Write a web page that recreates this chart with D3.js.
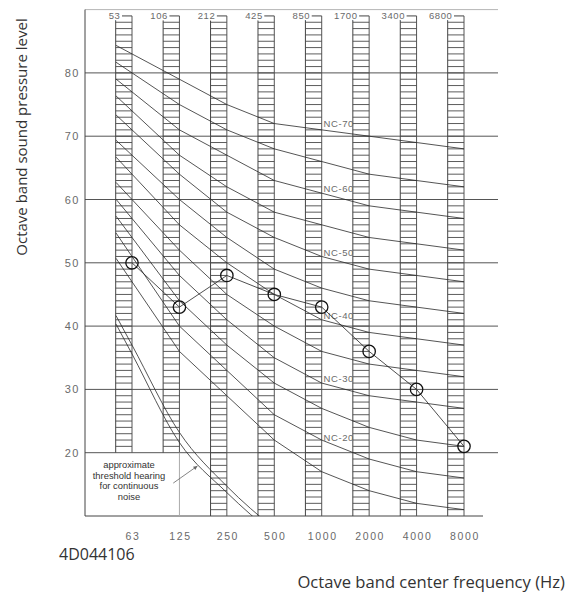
<!DOCTYPE html>
<html>
<head>
<meta charset="utf-8">
<script src="https://cdn.jsdelivr.net/npm/d3@7"></script>
<style>
  body { margin: 0; background: #fff; }
  svg { display: block; }
</style>
</head>
<body>
<div id="app"></div>
<script>
(function (d3) {

  'use strict'

  // octave band centres (bottom) and band edges (top)
  const bands = ['63', '125', '250', '500', '1000', '2000', '4000', '8000']
  const edges = ['53', '106', '212', '425', '850', '1700', '3400', '6800']
  const yTicks = [20, 30, 40, 50, 60, 70, 80]

  // NC curves, 63 .. 8000 Hz
  const ncNames = [70, 65, 60, 55, 50, 45, 40, 35, 30, 25, 20, 15]
  const ncValues = [
    [83, 79, 75, 72, 71, 70, 69, 68],
    [80, 75, 71, 68, 66, 64, 63, 62],
    [77, 71, 67, 63, 61, 59, 58, 57],
    [74, 67, 62, 58, 56, 54, 53, 52],
    [71, 64, 58, 54, 51, 49, 48, 47],
    [67, 60, 54, 49, 46, 44, 43, 42],
    [64, 56, 50, 45, 41, 39, 38, 37],
    [60, 52, 45, 40, 36, 34, 33, 32],
    [57, 48, 41, 35, 31, 29, 28, 27],
    [54, 44, 37, 31, 27, 24, 22, 21],
    [51, 40, 33, 26, 22, 19, 17, 16],
    [47, 36, 29, 22, 17, 14, 12, 11]
  ]
  const labelled = [70, 60, 50, 40, 30, 20]

  const measured = [50, 43, 48, 45, 43, 36, 30, 21]

  // approximate hearing threshold, 63 .. 500 Hz
  const thresholdUpper = [37, 23.2, 14.7, 8]
  const thresholdLower = [35.6, 21.6, 13.7, 7]
  const note = ['approximate', 'threshold hearing', 'for continuous', 'noise']

  const w = 572
  const h = 595
  const left = 85
  const gridRight = 498
  const axisRight = 483
  const barW = 16.3
  const ext = 0.337

  const svg = d3.select('#app')
    .append('svg')
    .attr('width', w)
    .attr('height', h)

  const x = d3.scaleLinear().domain([0, 7]).range([132, 464])
  const y = d3.scaleLinear().domain([10, 90]).range([516, 9.6])

  const tickFont = '"Liberation Sans", Arial, sans-serif'
  const textFont = '"Open Sans", "Noto Sans", sans-serif'

  svg.append('defs').append('clipPath')
    .attr('id', 'plot')
    .append('rect')
    .attr('x', left).attr('y', y(90))
    .attr('width', gridRight - left).attr('height', y(10) - y(90))

  // grid
  svg.append('g')
    .selectAll('line')
    .data(yTicks)
    .enter()
    .append('line')
    .attr('x1', left).attr('x2', gridRight)
    .attr('y1', d => y(d)).attr('y2', d => y(d))
    .attr('stroke', '#555')
    .attr('stroke-width', 1)

  svg.append('line')
    .attr('x1', left).attr('x2', gridRight)
    .attr('y1', y(90)).attr('y2', y(90))
    .attr('stroke', '#b5b5b5')

  svg.append('line')
    .attr('x1', left).attr('x2', left)
    .attr('y1', y(90)).attr('y2', y(10))
    .attr('stroke', '#444')

  svg.append('line')
    .attr('x1', left).attr('x2', axisRight)
    .attr('y1', y(10)).attr('y2', y(10))
    .attr('stroke', '#444')

  // y tick labels
  svg.append('g')
    .selectAll('text')
    .data(yTicks)
    .enter()
    .append('text')
    .attr('x', 80)
    .attr('y', d => y(d) + 4)
    .attr('text-anchor', 'end')
    .style('font-family', tickFont)
    .style('font-size', '11px')
    .style('letter-spacing', '1.5px')
    .style('fill', '#6a6a6a')
    .text(d => d)

  // hatched band columns
  const bars = svg.append('g')
  bands.forEach(function (b, i) {
    const bottom = i < 2 ? 20 : 10
    const g = bars.append('g')
    const x1 = x(i) - barW
    const x2 = x(i)
    g.append('line')
      .attr('x1', x1).attr('x2', x1)
      .attr('y1', y(88.4)).attr('y2', y(bottom))
      .attr('stroke', '#444')
    g.append('line')
      .attr('x1', x2).attr('x2', x2)
      .attr('y1', y(89)).attr('y2', y(bottom))
      .attr('stroke', '#555')
    g.selectAll('.hatch')
      .data(d3.range(88, bottom, -1))
      .enter()
      .append('line')
      .attr('class', 'hatch')
      .attr('x1', x1).attr('x2', x2)
      .attr('y1', d => y(d)).attr('y2', d => y(d))
      .attr('stroke', '#4a4a4a')
      .attr('stroke-width', 0.9)
    g.append('line')
      .attr('x1', x2 - 10).attr('x2', x2)
      .attr('y1', y(89)).attr('y2', y(89))
      .attr('stroke', '#444')
    g.append('text')
      .attr('x', x2 - 11.5)
      .attr('y', y(89) + 3.5)
      .attr('text-anchor', 'end')
      .style('font-family', tickFont)
      .style('font-size', '9.5px')
      .style('letter-spacing', '0.6px')
      .style('fill', '#6a6a6a')
      .style('paint-order', 'stroke')
      .style('stroke', '#fff')
      .style('stroke-width', '3px')
      .text(edges[i])
    g.append('text')
      .attr('x', x2 + 1)
      .attr('y', 540)
      .attr('text-anchor', 'middle')
      .style('font-family', tickFont)
      .style('font-size', '10.5px')
      .style('letter-spacing', '1.6px')
      .style('fill', '#6a6a6a')
      .text(b)
  })

  // 125 Hz right edge runs on to the axis
  svg.append('line')
    .attr('x1', x(1)).attr('x2', x(1))
    .attr('y1', y(20)).attr('y2', y(10))
    .attr('stroke', '#aaa')

  const line = d3.line()
    .x(d => x(d.i))
    .y(d => y(d.v))

  const withLead = function (vals) {
    const pts = vals.map((v, i) => ({ i: i, v: v }))
    pts.unshift({ i: -ext, v: vals[0] + (vals[0] - vals[1]) * ext })
    return pts
  }

  // NC curves
  svg.append('g')
    .attr('clip-path', 'url(#plot)')
    .selectAll('path')
    .data(ncValues)
    .enter()
    .append('path')
    .attr('d', d => line(withLead(d)))
    .attr('fill', 'none')
    .attr('stroke', '#2a2a2a')
    .attr('stroke-width', 0.8)

  // NC labels
  svg.append('g')
    .selectAll('text')
    .data(labelled)
    .enter()
    .append('text')
    .attr('x', x(4) + 17)
    .attr('y', function (n) {
      const v = ncValues[ncNames.indexOf(n)]
      return y(v[4] + (v[5] - v[4]) * ext) - 5
    })
    .attr('text-anchor', 'middle')
    .style('font-family', tickFont)
    .style('font-size', '9.5px')
    .style('letter-spacing', '0.6px')
    .style('fill', '#6a6a6a')
    .text(n => 'NC-' + n)

  // threshold of hearing
  const smooth = d3.line()
    .x(d => x(d.i))
    .y(d => y(d.v))
    .curve(d3.curveMonotoneX)

  svg.append('g')
    .attr('clip-path', 'url(#plot)')
    .selectAll('path')
    .data([thresholdUpper, thresholdLower])
    .enter()
    .append('path')
    .attr('d', d => smooth(withLead(d)))
    .attr('fill', 'none')
    .attr('stroke', '#2a2a2a')
    .attr('stroke-width', 0.8)

  svg.append('g')
    .selectAll('text')
    .data(note)
    .enter()
    .append('text')
    .attr('x', 129)
    .attr('y', (d, i) => 468 + i * 10.6)
    .attr('text-anchor', 'middle')
    .style('font-family', tickFont)
    .style('font-size', '9.4px')
    .style('fill', '#333')
    .text(d => d)

  svg.select('defs').append('marker')
    .attr('id', 'arrow')
    .attr('viewBox', '0 0 10 10')
    .attr('refX', 10).attr('refY', 5)
    .attr('markerWidth', 7).attr('markerHeight', 5)
    .attr('orient', 'auto')
    .append('path')
    .attr('d', 'M0,0L10,5L0,10Z')
    .attr('fill', '#666')

  svg.append('line')
    .attr('x1', x(0.87)).attr('y1', y(15.2))
    .attr('x2', x(1.38)).attr('y2', y(17.9))
    .attr('stroke', '#666')
    .attr('stroke-width', 0.8)
    .attr('marker-end', 'url(#arrow)')

  // measured spectrum
  const pts = measured.map((v, i) => ({ i: i, v: v }))
  svg.append('path')
    .attr('d', line(pts))
    .attr('fill', 'none')
    .attr('stroke', '#222')
    .attr('stroke-width', 0.8)

  svg.append('g')
    .selectAll('circle')
    .data(pts)
    .enter()
    .append('circle')
    .attr('cx', d => x(d.i))
    .attr('cy', d => y(d.v))
    .attr('r', 6.2)
    .attr('fill', 'none')
    .attr('stroke', '#111')
    .attr('stroke-width', 1.3)

  // titles
  svg.append('text')
    .attr('transform', 'translate(27,137) rotate(-90)')
    .attr('text-anchor', 'middle')
    .style('font-family', textFont)
    .style('font-size', '15px')
    .style('fill', '#333')
    .text('Octave band sound pressure level')

  svg.append('text')
    .attr('x', 565)
    .attr('y', 588)
    .attr('text-anchor', 'end')
    .style('font-family', textFont)
    .style('font-size', '16.6px')
    .style('fill', '#333')
    .text('Octave band center frequency (Hz)')

  svg.append('text')
    .attr('x', 59)
    .attr('y', 560)
    .style('font-family', textFont)
    .style('font-size', '16px')
    .style('fill', '#333')
    .text('4D044106')

}(d3))
</script>
</body>
</html>
